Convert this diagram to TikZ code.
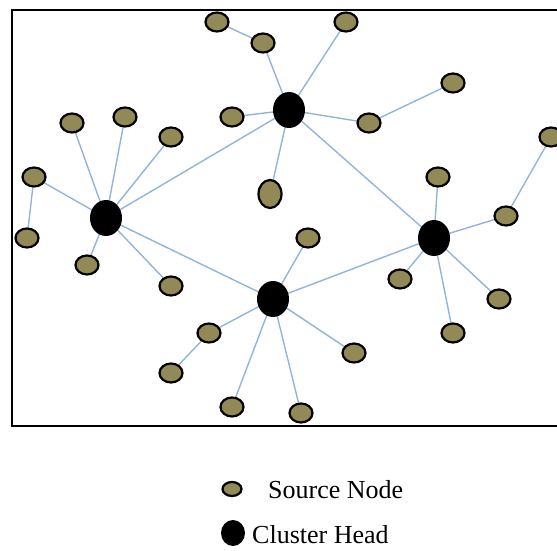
\documentclass[tikz,border=0pt]{standalone}
\usepackage{fontspec}
\setmainfont{Liberation Serif}
\usetikzlibrary{shapes.geometric,backgrounds}
\definecolor{olivenode}{RGB}{145,137,86}
\definecolor{linkblue}{RGB}{145,180,222}
\tikzset{
  src/.style={ellipse, draw=black, line width=2.2pt, fill=olivenode,
              minimum width=23pt, minimum height=19pt, inner sep=0pt},
  head/.style={ellipse, fill=black, minimum width=32pt, minimum height=36pt, inner sep=0pt},
  link/.style={draw=linkblue, line width=1.4pt},
  legendtext/.style={font=\fontsize{26}{31}\selectfont, inner sep=0pt, anchor=base west}
}
\begin{document}
\begin{tikzpicture}[x=1pt, y=-1pt]
\useasboundingbox (0,0) rectangle (557,551);

% frame (open to the right)
\draw[line width=2.2pt] (557,10) -- (12,10) -- (12,426) -- (557,426);

% cluster heads
\node[head] (h1) at (106,218) {};
\node[head] (h2) at (289,110) {};
\node[head] (h3) at (434,238) {};
\node[head] (h4) at (273,299) {};

% source nodes around h1
\node[src] (a1) at (72,123) {};
\node[src] (a2) at (125,117) {};
\node[src] (a3) at (171,137) {};
\node[src] (a4) at (34,177) {};
\node[src] (a5) at (27,238) {};
\node[src] (a6) at (87,265) {};
\node[src] (a7) at (171,286) {};

% source nodes around h2
\node[src] (b1) at (217,22) {};
\node[src] (b2) at (263,43) {};
\node[src] (b3) at (346,22) {};
\node[src] (b4) at (232,117) {};
\node[src] (b5) at (369,123) {};
\node[src] (b6) at (453,83) {};
\node[src, minimum width=23pt, minimum height=28pt] (b7) at (270,194) {};

% source nodes around h3
\node[src] (c1) at (438,177) {};
\node[src] (c2) at (506,216) {};
\node[src] (c3) at (551,137) {};
\node[src] (c4) at (400,279) {};
\node[src] (c5) at (499,299) {};
\node[src] (c6) at (453,333) {};

% source nodes around h4
\node[src] (d1) at (308,238) {};
\node[src] (d2) at (209,333) {};
\node[src] (d3) at (171,373) {};
\node[src] (d4) at (232,407) {};
\node[src] (d5) at (301,413) {};
\node[src] (d6) at (354,353) {};

% links, kept beneath the nodes
\begin{scope}[on background layer]
  \draw[link] (h1.center) -- (h2.center) -- (h3.center) -- (h4.center) -- (h1.center);
  \foreach \n in {a1,a2,a3,a4,a6,a7} \draw[link] (h1.center) -- (\n.center);
  \draw[link] (a4.center) -- (a5.center);
  \foreach \n in {b2,b3,b4,b5,b7} \draw[link] (h2.center) -- (\n.center);
  \draw[link] (b2.center) -- (b1.center);
  \draw[link] (b5.center) -- (b6.center);
  \foreach \n in {c1,c2,c4,c5,c6} \draw[link] (h3.center) -- (\n.center);
  \draw[link] (c2.center) -- (c3.center);
  \foreach \n in {d1,d2,d4,d5,d6} \draw[link] (h4.center) -- (\n.center);
  \draw[link] (d2.center) -- (d3.center);
\end{scope}

% legend
\node[src, minimum width=19pt, minimum height=14pt] (ks) at (232,489) {};
\node[legendtext] (kst) at (268,498) {Source Node};
\node[head, minimum width=24pt, minimum height=26pt] (kh) at (233,533) {};
\node[legendtext] (kht) at (252,543) {Cluster Head};
\end{tikzpicture}
\end{document}
